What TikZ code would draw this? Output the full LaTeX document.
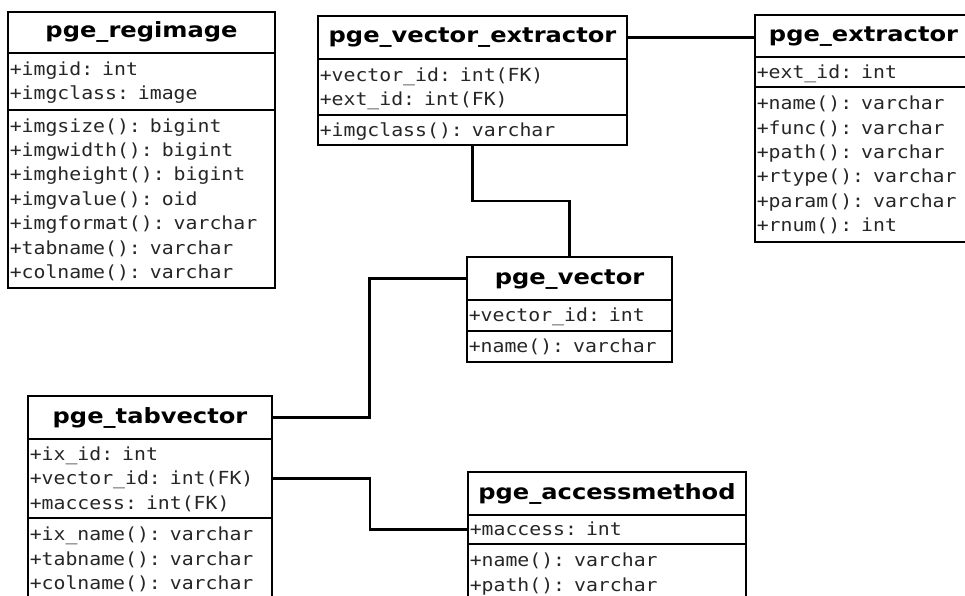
\documentclass[tikz,border=0pt]{standalone}
\usepackage{fontspec}
\usetikzlibrary{calc}
\newfontfamily\umlhead{DejaVu Sans}[FakeStretch=1.15]
\newfontfamily\umlmono{DejaVu Sans Mono}[FakeStretch=1.10]
% one row of a compartment: fixed height and depth so rows stack evenly
\newcommand\rowstrut{\rule[-5.9pt]{0pt}{24.4pt}}
\tikzset{
  umlpart/.style={draw=black, line width=2.8pt, outer sep=0pt, inner sep=0pt, anchor=north west},
  umlname/.style={umlpart, font=\umlhead\bfseries\fontsize{21}{25}\selectfont, text height=16pt, text depth=5pt},
  umlrows/.style={umlpart, font=\umlmono\fontsize{18}{24.4}\selectfont, text=black!85, align=left, inner xsep=1.8pt},
  umllink/.style={line width=2.8pt},
}
\begin{document}
\begin{tikzpicture}[x=1pt, y=-1pt]
\path[use as bounding box] (0,0) rectangle (965,596);
\fill[white] (0,0) rectangle (965,596);
\clip (0,0) rectangle (965,596);

% pge_regimage
\node[umlname, minimum width=267pt, minimum height=41pt] (ri-n) at (8,12) {pge\_regimage};
\node[umlrows, minimum width=267pt, text width=263.4pt, minimum height=57pt] (ri-a) at (8,53)
  {\rowstrut+imgid: int\\\rowstrut+imgclass: image};
\node[umlrows, minimum width=267pt, text width=263.4pt, minimum height=178pt] (ri-m) at (8,110)
  {\rowstrut+imgsize(): bigint\\\rowstrut+imgwidth(): bigint\\\rowstrut+imgheight(): bigint\\\rowstrut+imgvalue(): oid\\\rowstrut+imgformat(): varchar\\\rowstrut+tabname(): varchar\\\rowstrut+colname(): varchar};

% pge_vector_extractor
\node[umlname, minimum width=309pt, minimum height=43pt] (vx-n) at (318,16) {pge\_vector\_extractor};
\node[umlrows, minimum width=309pt, text width=305.4pt, minimum height=56pt] (vx-a) at (318,59)
  {\rowstrut+vector\_id: int(FK)\\\rowstrut+ext\_id: int(FK)};
\node[umlrows, minimum width=309pt, text width=305.4pt, minimum height=30pt] (vx-m) at (318,115)
  {\rowstrut+imgclass(): varchar};

% pge_extractor
\node[umlname, minimum width=217pt, minimum height=42pt] (ex-n) at (755,15) {pge\_extractor};
\node[umlrows, minimum width=217pt, text width=213.4pt, minimum height=30pt] (ex-a) at (755,57)
  {\rowstrut+ext\_id: int};
\node[umlrows, minimum width=217pt, text width=213.4pt, minimum height=155pt] (ex-m) at (755,87)
  {\rowstrut+name(): varchar\\\rowstrut+func(): varchar\\\rowstrut+path(): varchar\\\rowstrut+rtype(): varchar\\\rowstrut+param(): varchar\\\rowstrut+rnum(): int};

% pge_vector
\node[umlname, minimum width=205pt, minimum height=43pt] (ve-n) at (467,257) {pge\_vector};
\node[umlrows, minimum width=205pt, text width=201.4pt, minimum height=31pt] (ve-a) at (467,300)
  {\rowstrut+vector\_id: int};
\node[umlrows, minimum width=205pt, text width=201.4pt, minimum height=31pt] (ve-m) at (467,331)
  {\rowstrut+name(): varchar};

% pge_tabvector
\node[umlname, minimum width=244pt, minimum height=43pt] (tv-n) at (28,396) {pge\_tabvector};
\node[umlrows, minimum width=244pt, text width=240.4pt, minimum height=79pt] (tv-a) at (28,439)
  {\rowstrut+ix\_id: int\\\rowstrut+vector\_id: int(FK)\\\rowstrut+maccess: int(FK)};
\node[umlrows, minimum width=244pt, text width=240.4pt, minimum height=82pt] (tv-m) at (28,518)
  {\rowstrut+ix\_name(): varchar\\\rowstrut+tabname(): varchar\\\rowstrut+colname(): varchar};

% pge_accessmethod
\node[umlname, minimum width=278pt, minimum height=43pt] (am-n) at (468,472) {pge\_accessmethod};
\node[umlrows, minimum width=278pt, text width=274.4pt, minimum height=29pt] (am-a) at (468,515)
  {\rowstrut+maccess: int};
\node[umlrows, minimum width=278pt, text width=274.4pt, minimum height=57pt] (am-m) at (468,544)
  {\rowstrut+name(): varchar\\\rowstrut+path(): varchar};

% associations
\draw[umllink] (vx-n.east) -- (vx-n.east -| ex-n.west);
\draw[umllink] (vx-m.south) |- ($(vx-m.south)!.5!(ve-n.north)$) -| (ve-n.north);
\draw[umllink] (ve-n.west) -| ($(ve-n.west)!.5!(tv-n.east)$) |- (tv-n.east);
\draw[umllink] (tv-a.east) -| ($(tv-a.east)!.5!(am-a.west)$) |- (am-a.west);
\end{tikzpicture}
\end{document}
